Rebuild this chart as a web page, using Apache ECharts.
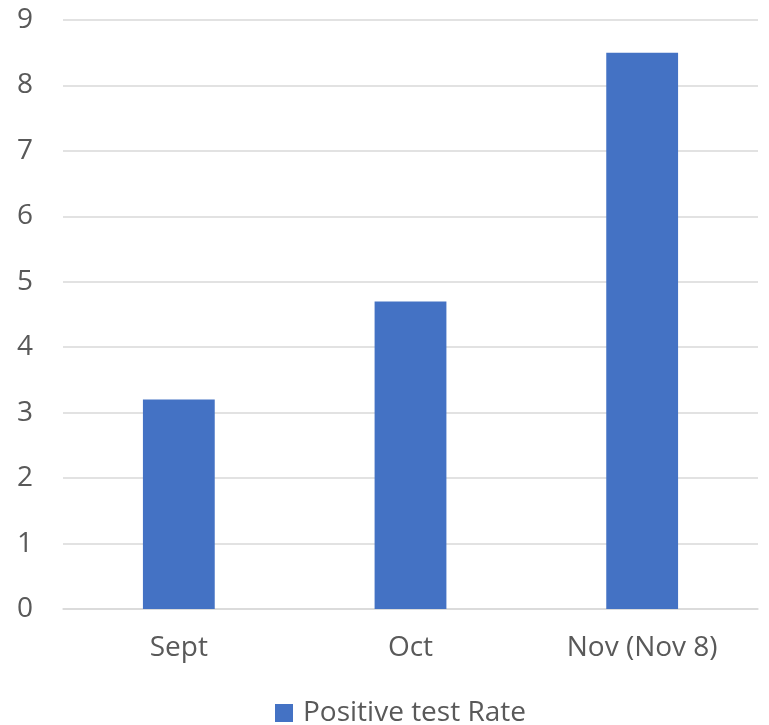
<!DOCTYPE html>
<html>
<head>
<meta charset="utf-8">
<script src="https://cdn.jsdelivr.net/npm/echarts@6/dist/echarts.min.js"></script>
<style>
  html, body { margin: 0; padding: 0; background: #fff; }
  #chart { width: 769px; height: 725px; }
</style>
</head>
<body>
<div id="chart"></div>
<script>
var categories = ["Sept", "Oct", "Nov (Nov 8)"];
var rateValues = [3.2, 4.7, 8.5];
var seriesName = "Positive test Rate";

var myChart = echarts.init(document.getElementById("chart"));
var option = {
  animation: false,
  grid: {
    left: 63,
    right: 11,
    top: 20,
    bottom: 116,
    containLabel: false,
  },
  legend: {
    top: 694,
    left: 270,
    itemWidth: 18,
    itemHeight: 18,
    itemGap: 10,
    icon: "rect",
    textStyle: {
      color: "#595959",
      fontSize: 28,
      fontFamily: "Open Sans",
      padding: [0, 0, 0, 5],
    },
    data: [seriesName],
  },
  xAxis: {
    type: "category",
    data: categories,
    axisLine: {
      show: true,
      lineStyle: { color: "#d9d9d9", width: 1.5 },
    },
    axisTick: { show: false },
    axisLabel: {
      color: "#595959",
      fontSize: 28,
      fontFamily: "Open Sans",
      margin: 25,
    },
  },
  yAxis: {
    type: "value",
    min: 0,
    max: 9,
    interval: 1,
    axisLine: { show: false },
    axisTick: { show: false },
    axisLabel: {
      color: "#595959",
      fontSize: 28,
      fontFamily: "Open Sans",
      margin: 30,
    },
    splitLine: {
      lineStyle: { color: "#d9d9d9", width: 1.5 },
    },
  },
  series: [
    {
      name: seriesName,
      type: "bar",
      data: rateValues,
      barWidth: "31%",
      itemStyle: { color: "#4472c4" },
    },
  ],
};
myChart.setOption(option);
</script>
</body>
</html>
